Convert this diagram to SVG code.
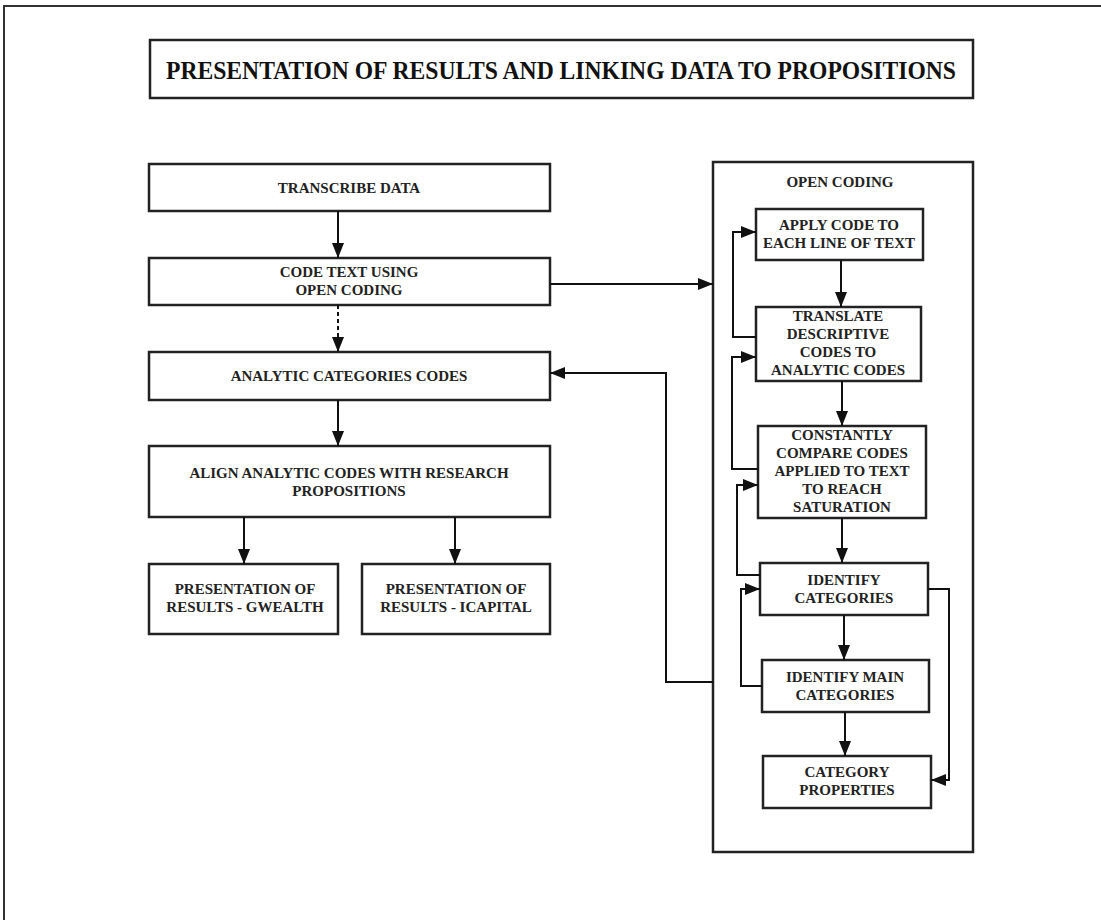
<svg xmlns="http://www.w3.org/2000/svg" width="1101" height="920" viewBox="0 0 1101 920">
  <style>
    .box { fill: #fff; stroke: #222; stroke-width: 2.5; }
    .lbl { font-family: "Liberation Serif", "Times New Roman", serif; font-weight: bold; font-size: 15px; fill: #222; text-anchor: middle; }
    .title { font-family: "Liberation Serif", "Times New Roman", serif; font-weight: bold; font-size: 26px; fill: #111; text-anchor: middle; }
    .edge { fill: none; stroke: #111; stroke-width: 2; marker-end: url(#ah); }
    .dash { stroke-dasharray: 4 3; }
  </style>
  <defs>
    <marker id="ah" markerUnits="userSpaceOnUse" markerWidth="15" markerHeight="12" refX="15" refY="6" orient="auto">
      <path d="M0,0 L15,6 L0,12 z" fill="#111"/>
    </marker>
  </defs>

  <rect width="1101" height="920" fill="#fff"/>
  <!-- page frame -->
  <path d="M1101,6 H4 V920" fill="none" stroke="#333" stroke-width="2"/>

  <g id="title">
    <rect class="box" x="150" y="40" width="823" height="58"/>
    <text class="title" x="561" y="79" textLength="790" lengthAdjust="spacingAndGlyphs">PRESENTATION OF RESULTS AND LINKING DATA TO PROPOSITIONS</text>
  </g>

  <!-- left column -->
  <g id="transcribe">
    <rect class="box" x="149" y="164" width="401" height="47"/>
    <text class="lbl" x="349" y="193">TRANSCRIBE DATA</text>
  </g>
  <g id="code-text">
    <rect class="box" x="149" y="258" width="401" height="47"/>
    <text class="lbl" x="349" y="277">CODE TEXT USING</text>
    <text class="lbl" x="349" y="295">OPEN CODING</text>
  </g>
  <g id="analytic">
    <rect class="box" x="149" y="352" width="401" height="48"/>
    <text class="lbl" x="349" y="381">ANALYTIC CATEGORIES CODES</text>
  </g>
  <g id="align">
    <rect class="box" x="149" y="446" width="401" height="71"/>
    <text class="lbl" x="349" y="478">ALIGN ANALYTIC CODES WITH RESEARCH</text>
    <text class="lbl" x="349" y="496">PROPOSITIONS</text>
  </g>
  <g id="gwealth">
    <rect class="box" x="149" y="564" width="189" height="70"/>
    <text class="lbl" x="245" y="594">PRESENTATION OF</text>
    <text class="lbl" x="245" y="612">RESULTS - GWEALTH</text>
  </g>
  <g id="icapital">
    <rect class="box" x="362" y="564" width="188" height="70"/>
    <text class="lbl" x="456" y="594">PRESENTATION OF</text>
    <text class="lbl" x="456" y="612">RESULTS - ICAPITAL</text>
  </g>

  <!-- open coding container -->
  <g id="open-coding">
    <rect class="box" x="713" y="162" width="260" height="690"/>
    <text class="lbl" x="840" y="187">OPEN CODING</text>
  </g>
  <g id="apply">
    <rect class="box" x="756" y="209" width="167" height="51"/>
    <text class="lbl" x="839" y="230">APPLY CODE TO</text>
    <text class="lbl" x="839" y="248">EACH LINE OF TEXT</text>
  </g>
  <g id="translate">
    <rect class="box" x="756" y="307" width="165" height="74"/>
    <text class="lbl" x="838" y="321">TRANSLATE</text>
    <text class="lbl" x="838" y="339">DESCRIPTIVE</text>
    <text class="lbl" x="838" y="357">CODES TO</text>
    <text class="lbl" x="838" y="375">ANALYTIC CODES</text>
  </g>
  <g id="compare">
    <rect class="box" x="758" y="426" width="168" height="92"/>
    <text class="lbl" x="842" y="440">CONSTANTLY</text>
    <text class="lbl" x="842" y="458">COMPARE CODES</text>
    <text class="lbl" x="842" y="476">APPLIED TO TEXT</text>
    <text class="lbl" x="842" y="494">TO REACH</text>
    <text class="lbl" x="842" y="512">SATURATION</text>
  </g>
  <g id="identify">
    <rect class="box" x="760" y="563" width="168" height="52"/>
    <text class="lbl" x="844" y="585">IDENTIFY</text>
    <text class="lbl" x="844" y="603">CATEGORIES</text>
  </g>
  <g id="identify-main">
    <rect class="box" x="762" y="660" width="167" height="52"/>
    <text class="lbl" x="845" y="682">IDENTIFY MAIN</text>
    <text class="lbl" x="845" y="700">CATEGORIES</text>
  </g>
  <g id="properties">
    <rect class="box" x="763" y="756" width="168" height="52"/>
    <text class="lbl" x="847" y="777">CATEGORY</text>
    <text class="lbl" x="847" y="795">PROPERTIES</text>
  </g>

  <g id="connectors">
    <path class="edge" d="M338,211 V258"/>
    <path class="edge dash" d="M338,305 V352"/>
    <path class="edge" d="M338,400 V446"/>
    <path class="edge" d="M244,517 V564"/>
    <path class="edge" d="M455,517 V564"/>
    <path class="edge" d="M550,284 H713"/>
    <path class="edge" d="M713,682 H666 V373 H550"/>

    <path class="edge" d="M841,260 V307"/>
    <path class="edge" d="M842,381 V426"/>
    <path class="edge" d="M842,518 V563"/>
    <path class="edge" d="M844,615 V660"/>
    <path class="edge" d="M845,712 V756"/>

    <path class="edge" d="M756,337 H733 V232 H756"/>
    <path class="edge" d="M758,469 H732 V357 H756"/>
    <path class="edge" d="M760,575 H737 V485 H758"/>
    <path class="edge" d="M762,686 H741 V589 H760"/>
    <path class="edge" d="M928,589 H949 V780 H931"/>
  </g>
</svg>
